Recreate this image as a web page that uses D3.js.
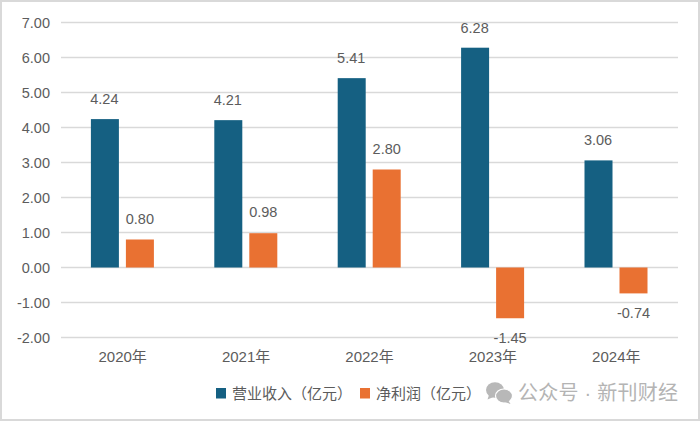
<!DOCTYPE html>
<html><head><meta charset="utf-8">
<script src="https://cdn.jsdelivr.net/npm/d3@7/dist/d3.min.js"></script>
<style>html,body{margin:0;padding:0;background:#fff}svg{display:block}
text{font-family:"Liberation Sans","Noto Sans CJK SC",sans-serif}</style></head><body>
<svg id="c" width="700" height="421"></svg>
<script>
const categories=["2020年","2021年","2022年","2023年","2024年"];
const seriesNames=["营业收入（亿元）","净利润（亿元）"];
const revenue=[4.24,4.21,5.41,6.28,3.06];
const profit=[0.80,0.98,2.80,-1.45,-0.74];
const yTicks=[7,6,5,4,3,2,1,0,-1,-2];
const colors=["#156082","#E97132"];
const svg=d3.select("#c");
svg.append("rect").attr("x",1).attr("y",1).attr("width",698).attr("height",419).attr("fill","#fff").attr("stroke","#d9d9d9").attr("stroke-width",2);
const x=d3.scaleBand().domain(categories).range([61,678]);
const y=d3.scaleLinear().domain([-2,7]).range([337.5,22.5]);
const inner=d3.scaleBand().domain([0,1]).range([-31.8,31.2]).paddingInner(0.2);
const textC="#5c5c5c";
svg.append("g").selectAll("line").data(yTicks).join("line")
 .attr("x1",61).attr("x2",678).attr("y1",d=>y(d)).attr("y2",d=>y(d))
 .attr("stroke","#d9d9d9").attr("stroke-width",1.3);
svg.append("g").selectAll("text").data(yTicks).join("text")
 .attr("x",50).attr("y",d=>y(d)+5.2).attr("text-anchor","end").attr("font-size",14.5).attr("fill",textC)
 .text(d=>d3.format(".2f")(d).replace("−","-"));
const groupCenter=c=>x(c)+x.bandwidth()/2;
[revenue,profit].forEach((vals,s)=>{
 svg.append("g").selectAll("rect").data(vals).join("rect")
  .attr("x",(d,i)=>groupCenter(categories[i])+inner(s))
  .attr("width",inner.bandwidth())
  .attr("y",d=>y(Math.max(d,0)))
  .attr("height",d=>Math.abs(y(d)-y(0)))
  .attr("fill",colors[s]);
});
svg.append("g").selectAll("text").data(revenue).join("text")
 .attr("x",(d,i)=>groupCenter(categories[i])+inner(0)+inner.bandwidth()/2-0.5)
 .attr("y",d=>y(d)-15)
 .attr("text-anchor","middle").attr("font-size",14.5).attr("fill",textC).text(d=>d.toFixed(2));
svg.append("g").selectAll("text").data(profit).join("text")
 .attr("x",(d,i)=>groupCenter(categories[i])+inner(1)+inner.bandwidth()/2)
 .attr("y",d=>d>=0?y(d)-16:y(d)+25)
 .attr("text-anchor","middle").attr("font-size",14.5).attr("fill",textC).text(d=>d.toFixed(2));
svg.append("g").selectAll("text").data(categories).join("text")
 .attr("x",c=>groupCenter(c)).attr("y",362).attr("text-anchor","middle").attr("font-size",15).attr("fill",textC).text(c=>c);
const lg=svg.append("g");
[[216,232],[360,376]].forEach((p,i)=>{
 lg.append("rect").attr("x",p[0]).attr("y",388).attr("width",10).attr("height",10.5).attr("fill",colors[i]);
 lg.append("text").attr("x",p[1]).attr("y",399).attr("font-size",15).attr("fill",textC).text(seriesNames[i]);
});
const wm=svg.append("g").attr("fill","#b8b8b8");
wm.append("ellipse").attr("cx",495).attr("cy",390).attr("rx",9).attr("ry",7.8);
wm.append("path").attr("d","M489 395 l-1.5 4.5 l6 -2.5 z");
wm.append("ellipse").attr("cx",504).attr("cy",396).attr("rx",8.5).attr("ry",7).attr("stroke","#fff").attr("stroke-width",1.2);
wm.append("path").attr("d","M508 400 l2.5 4 l-6 -2 z");
wm.append("text").attr("x",518).attr("y",400).attr("font-size",20).attr("fill","#b4b4b4").attr("textLength",160).text("公众号 · 新刊财经");
</script></body></html>
